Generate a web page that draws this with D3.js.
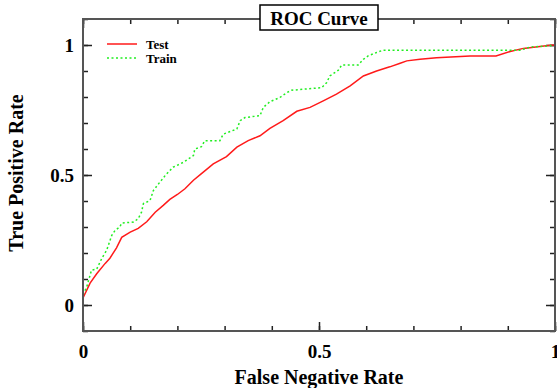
<!DOCTYPE html>
<html>
<head>
<meta charset="utf-8">
<script src="https://cdn.jsdelivr.net/npm/d3@7"></script>
<style>
  body { margin: 0; background: #fff; }
  text { font-family: "Liberation Serif", "Times New Roman", serif; font-weight: bold; }
</style>
</head>
<body>
<div id="chart"></div>
<script>
// ---- data ----
let testX = [0, 0.015, 0.029, 0.047, 0.057, 0.071, 0.082, 0.1, 0.117, 0.135, 0.153, 0.17, 0.184, 0.2, 0.216, 0.234, 0.251, 0.276, 0.304, 0.326, 0.35, 0.375, 0.396, 0.424, 0.453, 0.481, 0.509, 0.537, 0.566, 0.594, 0.622, 0.65, 0.672, 0.686, 0.714, 0.749, 0.82, 0.875, 0.905, 0.933, 0.99, 1];
let testY = [0.027, 0.084, 0.12, 0.16, 0.18, 0.22, 0.26, 0.28, 0.295, 0.32, 0.357, 0.383, 0.406, 0.425, 0.447, 0.48, 0.505, 0.543, 0.571, 0.607, 0.632, 0.651, 0.679, 0.709, 0.745, 0.76, 0.785, 0.811, 0.843, 0.881, 0.9, 0.916, 0.93, 0.939, 0.945, 0.951, 0.958, 0.958, 0.975, 0.987, 0.999, 1];

let trainX = [0, 0.008, 0.018, 0.029, 0.04, 0.05, 0.061, 0.068, 0.078, 0.082, 0.107, 0.117, 0.124, 0.128, 0.142, 0.149, 0.16, 0.175, 0.191, 0.213, 0.234, 0.237, 0.251, 0.258, 0.29, 0.297, 0.326, 0.333, 0.343, 0.375, 0.382, 0.396, 0.417, 0.432, 0.442, 0.506, 0.516, 0.523, 0.541, 0.548, 0.583, 0.594, 0.604, 0.622, 0.636, 0.926, 0.947, 0.982, 1];
let trainY = [0.04, 0.07, 0.134, 0.138, 0.18, 0.21, 0.268, 0.287, 0.3, 0.315, 0.319, 0.332, 0.357, 0.39, 0.402, 0.44, 0.466, 0.5, 0.53, 0.549, 0.575, 0.6, 0.609, 0.632, 0.632, 0.657, 0.677, 0.709, 0.721, 0.728, 0.76, 0.782, 0.798, 0.817, 0.826, 0.836, 0.855, 0.881, 0.903, 0.923, 0.923, 0.945, 0.958, 0.971, 0.98, 0.98, 0.992, 0.996, 1];

let seriesNames = ["Test", "Train"];
let seriesColors = ["#ff1a1a", "#22ee22"];
let majorTicks = [0, 0.5, 1];
let xDomain = [0, 1];
let yDomain = [-0.1, 1.1];

// ---- layout ----
let W = 557, H = 388;
let plot = {left: 83, right: 555, top: 19, bottom: 331};

let svg = d3.select("#chart").append("svg")
    .attr("width", W)
    .attr("height", H);

let x = d3.scaleLinear().domain(xDomain).range([plot.left, plot.right]);
let y = d3.scaleLinear().domain(yDomain).range([plot.bottom, plot.top]);

let minorX = d3.range(0, 1.0001, 0.1).map(v => +v.toFixed(2));
let minorY = d3.range(-0.1, 1.1001, 0.1).map(v => +v.toFixed(2));
let fmt = d3.format("~g");

svg.append("defs").append("clipPath").attr("id", "clip")
  .append("rect")
    .attr("x", plot.left).attr("y", plot.top)
    .attr("width", plot.right - plot.left)
    .attr("height", plot.bottom - plot.top);

// minor ticks, all four sides, pointing in
function styleTicks(g) {
    g.select(".domain").remove();
    g.selectAll(".tick line").attr("stroke", "#222").attr("stroke-width", 1.5);
    g.selectAll(".tick text").remove();
}
svg.append("g").attr("transform", "translate(0," + plot.bottom + ")")
    .call(d3.axisBottom(x).tickValues(minorX).tickSize(-5)).call(styleTicks);
svg.append("g").attr("transform", "translate(0," + plot.top + ")")
    .call(d3.axisTop(x).tickValues(minorX).tickSize(-5)).call(styleTicks);
svg.append("g").attr("transform", "translate(" + plot.left + ",0)")
    .call(d3.axisLeft(y).tickValues(minorY).tickSize(-5)).call(styleTicks);
svg.append("g").attr("transform", "translate(" + plot.right + ",0)")
    .call(d3.axisRight(y).tickValues(minorY).tickSize(-5)).call(styleTicks);

// major ticks
svg.append("g").attr("transform", "translate(0," + plot.top + ")")
    .call(d3.axisTop(x).tickValues(majorTicks).tickSize(-9)).call(styleTicks);
svg.append("g").attr("transform", "translate(" + plot.right + ",0)")
    .call(d3.axisRight(y).tickValues(majorTicks).tickSize(-9)).call(styleTicks);

let xAxis = svg.append("g").attr("transform", "translate(0," + plot.bottom + ")")
    .call(d3.axisBottom(x).tickValues(majorTicks).tickSize(-9).tickPadding(14).tickFormat(fmt));
xAxis.select(".domain").remove();
xAxis.selectAll(".tick line").attr("stroke", "#222").attr("stroke-width", 1.5);
xAxis.selectAll(".tick text").attr("font-size", 19).attr("fill", "#000")
    .attr("font-family", "Liberation Serif").attr("font-weight", "bold");

let yAxis = svg.append("g").attr("transform", "translate(" + plot.left + ",0)")
    .call(d3.axisLeft(y).tickValues(majorTicks).tickSize(-9).tickPadding(9).tickFormat(fmt));
yAxis.select(".domain").remove();
yAxis.selectAll(".tick line").attr("stroke", "#222").attr("stroke-width", 1.5);
yAxis.selectAll(".tick text").attr("font-size", 19).attr("fill", "#000")
    .attr("font-family", "Liberation Serif").attr("font-weight", "bold");

// curves
let line = d3.line().x(d => x(d[0])).y(d => y(d[1]));
let curves = [d3.zip(testX, testY), d3.zip(trainX, trainY)];

svg.append("g").attr("clip-path", "url(#clip)")
  .selectAll("path")
  .data(curves)
  .enter()
  .append("path")
    .attr("d", line)
    .attr("fill", "none")
    .attr("stroke", (d, i) => seriesColors[i])
    .attr("stroke-width", 1.5)
    .attr("stroke-dasharray", (d, i) => i == 1 ? "2,2.5" : null);

// frame
svg.append("rect")
    .attr("x", plot.left).attr("y", plot.top)
    .attr("width", plot.right - plot.left)
    .attr("height", plot.bottom - plot.top)
    .attr("fill", "none")
    .attr("stroke", "#555")
    .attr("stroke-width", 2);

// legend
let legend = svg.append("g").selectAll("g")
    .data(seriesNames)
    .enter()
    .append("g")
    .attr("transform", (d, i) => "translate(107," + (44 + i * 14) + ")");
legend.append("line")
    .attr("x1", 0).attr("x2", 30)
    .attr("stroke", (d, i) => seriesColors[i])
    .attr("stroke-width", 1.5)
    .attr("stroke-dasharray", (d, i) => i == 1 ? "2,2.5" : null);
legend.append("text")
    .attr("x", 39).attr("y", 4.5)
    .attr("font-size", 13)
    .text(d => d);

// title box
let titleX = (plot.left + plot.right) / 2;
svg.append("rect")
    .attr("x", 260).attr("y", 5)
    .attr("width", 118).attr("height", 25)
    .attr("fill", "#fff")
    .attr("stroke", "#000")
    .attr("stroke-width", 1.5);
svg.append("text")
    .attr("x", titleX).attr("y", 25)
    .attr("text-anchor", "middle")
    .attr("font-size", 19)
    .text("ROC Curve");

// axis titles
svg.append("text")
    .attr("x", titleX).attr("y", 384)
    .attr("text-anchor", "middle")
    .attr("font-size", 20)
    .text("False Negative Rate");
svg.append("text")
    .attr("transform", "translate(23,173) rotate(-90)")
    .attr("text-anchor", "middle")
    .attr("font-size", 20)
    .text("True Positive Rate");
</script>
</body>
</html>
